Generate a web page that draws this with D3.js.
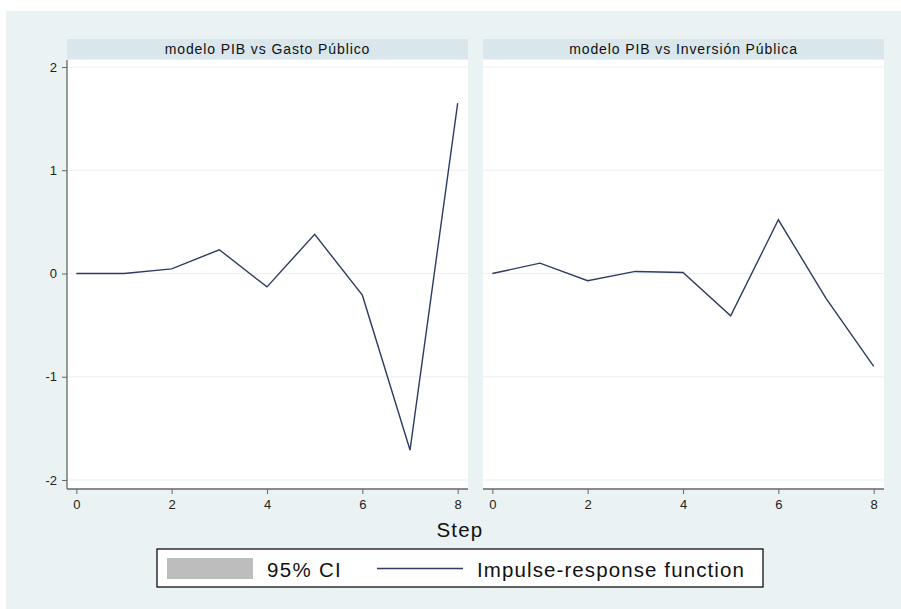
<!DOCTYPE html>
<html><head><meta charset="utf-8">
<script src="https://cdn.jsdelivr.net/npm/d3@7"></script>
<style>body{margin:0;background:#fff}svg{display:block}text{font-family:"Liberation Sans",Arial,sans-serif}</style>
</head><body><svg id="c" width="901" height="609"></svg>
<script>
const steps = [0,1,2,3,4,5,6,7,8];
const panelTitles = ["modelo PIB vs Gasto Público", "modelo PIB vs Inversión Pública"];
const irfGasto = [0, 0, 0.045, 0.23, -0.13, 0.38, -0.21, -1.71, 1.65];
const irfInversion = [0, 0.10, -0.07, 0.02, 0.01, -0.41, 0.52, -0.24, -0.90];
const yTicks = [-2,-1,0,1,2];
const xTicks = [0,2,4,6,8];
const legendLabels = ["95% CI", "Impulse-response function"];
const xLabel = "Step";

const series = [irfGasto, irfInversion];
const svg = d3.select("#c");
svg.append("rect").attr("x",6).attr("y",11).attr("width",895).attr("height",598).attr("fill","#eaf2f3");

const panels = [{x0:67,x1:468},{x0:483,x1:884}];
const plotTop = 60, plotBottom = 489;
const y = d3.scaleLinear().domain([-2,2]).range([480,67]);
const lineColor = "#2e3b62";
const fmt = d => String(d);

panels.forEach((p,i)=>{
  const x = d3.scaleLinear().domain([0,8]).range([p.x0+9.3, p.x1-10.3]);
  const g = svg.append("g");
  g.append("rect").attr("x",p.x0).attr("y",39).attr("width",p.x1-p.x0).attr("height",20).attr("fill","#d9e6eb");
  g.append("text").attr("x",(p.x0+p.x1)/2).attr("y",53.5).attr("text-anchor","middle")
    .attr("font-size",14).attr("letter-spacing",0.9).attr("fill","#111").text(panelTitles[i]);
  g.append("rect").attr("x",p.x0).attr("y",plotTop).attr("width",p.x1-p.x0).attr("height",plotBottom-plotTop).attr("fill","#fff");
  g.selectAll("line.grid").data(yTicks).enter().append("line")
    .attr("x1",p.x0).attr("x2",p.x1).attr("y1",d=>y(d)).attr("y2",d=>y(d))
    .attr("stroke","#eaf2f3").attr("stroke-width",1.2);
  const xa = g.append("g").attr("transform",`translate(0,${plotBottom})`)
    .call(d3.axisBottom(x).tickValues(xTicks).tickSize(5).tickPadding(6).tickFormat(fmt));
  xa.select(".domain").attr("d",`M${p.x0},0H${p.x1}`).attr("stroke","#666").attr("stroke-width",1.3);
  xa.selectAll(".tick line").attr("stroke","#666");
  xa.selectAll(".tick text").attr("font-size",13).attr("fill","#222");
  if(i===0){
    const ya = g.append("g").attr("transform",`translate(${p.x0},0)`)
      .call(d3.axisLeft(y).tickValues(yTicks).tickSize(5).tickPadding(5).tickFormat(fmt));
    ya.select(".domain").attr("d",`M0,${plotTop}V${plotBottom}`).attr("stroke","#666").attr("stroke-width",1.3);
    ya.selectAll(".tick line").attr("stroke","#666");
    ya.selectAll(".tick text").attr("font-size",13).attr("fill","#222");
  }
  const line = d3.line().x((d,j)=>x(steps[j])).y(d=>y(d));
  g.append("path").datum(series[i]).attr("d",line).attr("fill","none")
    .attr("stroke",lineColor).attr("stroke-width",1.4);
});

svg.append("text").attr("x",460).attr("y",537).attr("text-anchor","middle").attr("font-size",20.5).attr("letter-spacing",1.2).attr("fill","#111").text(xLabel);

const lg = svg.append("g");
lg.append("rect").attr("x",157).attr("y",549).attr("width",606).attr("height",38).attr("fill","#fff").attr("stroke","#111").attr("stroke-width",1.3);
lg.append("rect").attr("x",167).attr("y",558).attr("width",86).attr("height",21).attr("fill","#bdbdbd");
lg.append("text").attr("x",267).attr("y",576.5).attr("font-size",20.5).attr("letter-spacing",1.3).attr("fill","#111").text(legendLabels[0]);
lg.append("line").attr("x1",377).attr("x2",463).attr("y1",568.5).attr("y2",568.5).attr("stroke",lineColor).attr("stroke-width",1.4);
lg.append("text").attr("x",477).attr("y",576.5).attr("font-size",20.5).attr("letter-spacing",1.1).attr("fill","#111").text(legendLabels[1]);
</script></body></html>
